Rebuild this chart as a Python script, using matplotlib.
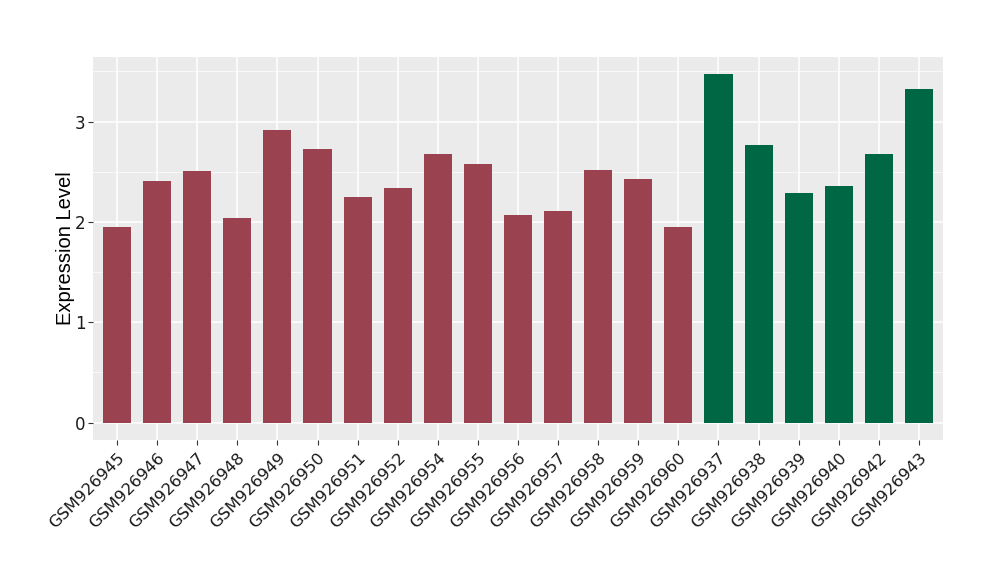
import numpy as np
import matplotlib
matplotlib.use('Agg')
import matplotlib.pyplot as plt

# sample ids and expression values
samples = ['GSM926945', 'GSM926946', 'GSM926947', 'GSM926948', 'GSM926949',
           'GSM926950', 'GSM926951', 'GSM926952', 'GSM926954', 'GSM926955',
           'GSM926956', 'GSM926957', 'GSM926958', 'GSM926959', 'GSM926960',
           'GSM926937', 'GSM926938', 'GSM926939', 'GSM926940', 'GSM926942',
           'GSM926943']
values = [1.95, 2.41, 2.51, 2.04, 2.92, 2.73, 2.25, 2.34, 2.68, 2.58,
          2.07, 2.11, 2.52, 2.43, 1.95, 3.47, 2.77, 2.29, 2.36, 2.68, 3.32]
groups = ['a'] * 15 + ['b'] * 6
group_colors = {'a': '#9A4250', 'b': '#006744'}

fig = plt.figure(figsize=(10, 5.8), dpi=100)
ax = fig.add_axes([0.093, 0.2414, 0.85, 0.6603])
ax.set_facecolor('#EBEBEB')

x = np.arange(len(samples))
ax.bar(x, values, width=0.7, color=[group_colors[g] for g in groups], zorder=3)

ymax = max(values)
ax.set_ylim(-0.05 * ymax, ymax * 1.05)
ax.set_xlim(-0.6, len(samples) - 0.4)

ax.set_yticks([0, 1, 2, 3])
ax.set_yticks([0.5, 1.5, 2.5, 3.5], minor=True)
ax.set_xticks(x)
ax.set_xticklabels(samples, rotation=45, ha='right', rotation_mode='anchor',
                   fontsize=11.8, color='#1A1A1A')
ax.tick_params(axis='y', labelsize=12, labelcolor='#1A1A1A', pad=2)
ax.tick_params(axis='x', pad=4)
ax.tick_params(axis='both', which='major', length=3.5, width=0.8, color='#333333')
ax.tick_params(axis='y', which='minor', length=0)

ax.grid(True, which='major', color='white', linewidth=1.1, zorder=0)
ax.grid(True, which='minor', axis='y', color='white', linewidth=0.5, zorder=0)
ax.set_axisbelow(True)
for s in ax.spines.values():
    s.set_visible(False)

ax.set_ylabel('Expression Level', fontsize=14.5, family='Liberation Sans', labelpad=0)

plt.savefig('out.png', dpi=100)
